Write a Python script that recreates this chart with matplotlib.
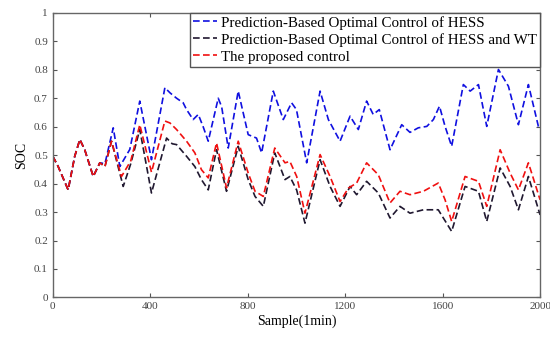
import matplotlib
matplotlib.use('Agg')
import matplotlib.pyplot as plt

plt.rcParams['font.family'] = ['Liberation Serif', 'DejaVu Serif']
plt.rcParams['xtick.direction'] = 'in'
plt.rcParams['ytick.direction'] = 'in'

# samples and SOC values
x_hess = [0, 22, 42, 63, 90, 111, 131, 166, 193, 214, 248, 275, 316, 357, 405, 460, 481,
          508, 535, 549, 576, 597, 617, 638, 679, 693, 720, 761, 802, 836, 857, 905, 946,
          980, 1000, 1042, 1097, 1131, 1179, 1220, 1254, 1288, 1315, 1340, 1384, 1432,
          1466, 1500, 1535, 1562, 1587, 1610, 1637, 1685, 1713, 1747, 1781, 1829, 1870,
          1911, 1952, 1993, 2000]
soc_hess = [0.496, 0.46, 0.42, 0.378, 0.496, 0.555, 0.519, 0.425, 0.473, 0.47, 0.596, 0.46,
            0.52, 0.69, 0.484, 0.737, 0.719, 0.70, 0.684, 0.66, 0.625, 0.643, 0.60, 0.549,
            0.70, 0.67, 0.525, 0.725, 0.572, 0.56, 0.508, 0.725, 0.625, 0.684, 0.66, 0.473,
            0.725, 0.625, 0.549, 0.637, 0.59, 0.69, 0.643, 0.66, 0.519, 0.607, 0.58, 0.596,
            0.601, 0.625, 0.672, 0.601, 0.531, 0.748, 0.725, 0.748, 0.601, 0.801, 0.742,
            0.607, 0.748, 0.601, 0.60]

x_wt = [0, 22, 42, 63, 90, 111, 131, 166, 193, 214, 241, 289, 320, 357, 405, 467, 490, 508,
        549, 583, 610, 638, 672, 713, 761, 802, 830, 864, 911, 953, 973, 1001, 1035, 1097,
        1138, 1179, 1220, 1247, 1288, 1336, 1384, 1425, 1466, 1521, 1582, 1637, 1692, 1747,
        1781, 1836, 1877, 1911, 1952, 2000]
soc_wt = [0.496, 0.46, 0.42, 0.378, 0.496, 0.555, 0.519, 0.425, 0.473, 0.46, 0.549, 0.39,
          0.47, 0.59, 0.367, 0.56, 0.54, 0.537, 0.496, 0.46, 0.414, 0.378, 0.519, 0.373,
          0.531, 0.414, 0.355, 0.32, 0.508, 0.414, 0.425, 0.377, 0.261, 0.484, 0.39, 0.32,
          0.39, 0.361, 0.408, 0.367, 0.279, 0.32, 0.296, 0.308, 0.308, 0.232, 0.39, 0.373,
          0.267, 0.455, 0.39, 0.308, 0.425, 0.29]

x_prop = [0, 22, 42, 63, 90, 111, 131, 166, 193, 214, 241, 282, 320, 357, 405, 460, 481,
          508, 549, 583, 610, 638, 672, 713, 761, 802, 830, 864, 911, 953, 973, 1001, 1035,
          1097, 1138, 1179, 1213, 1247, 1288, 1336, 1384, 1425, 1466, 1521, 1582, 1610,
          1637, 1692, 1747, 1781, 1836, 1877, 1911, 1952, 2000]
soc_prop = [0.496, 0.46, 0.42, 0.378, 0.496, 0.555, 0.519, 0.425, 0.473, 0.46, 0.549, 0.425,
            0.48, 0.607, 0.44, 0.62, 0.613, 0.59, 0.549, 0.508, 0.449, 0.42, 0.543, 0.385,
            0.549, 0.437, 0.373, 0.355, 0.525, 0.473, 0.478, 0.425, 0.296, 0.502, 0.425,
            0.337, 0.384, 0.402, 0.473, 0.431, 0.332, 0.373, 0.361, 0.373, 0.402, 0.343,
            0.267, 0.425, 0.408, 0.32, 0.519, 0.437, 0.378, 0.473, 0.343]

labels = ['Prediction-Based Optimal Control of HESS',
          'Prediction-Based Optimal Control of HESS and WT',
          'The proposed control']

fig = plt.figure(figsize=(5.5, 3.38), dpi=100)
ax = fig.add_axes([0.096, 0.12, 0.886, 0.842])

ax.plot(x_hess, soc_hess, '--', color='#1010e0', lw=1.2, dashes=(4, 2), label=labels[0])
ax.plot(x_wt, soc_wt, '--', color='#201830', lw=1.2, dashes=(4, 2), label=labels[1])
ax.plot(x_prop, soc_prop, '--', color='#f01010', lw=1.2, dashes=(4, 2), label=labels[2])

ax.set_xlim(0, 2000)
ax.set_ylim(0, 1)
ax.set_xticks([0, 400, 800, 1200, 1600, 2000])
ax.set_yticks([i / 10 for i in range(11)])
ax.set_yticklabels(['0', '0.1', '0.2', '0.3', '0.4', '0.5', '0.6', '0.7', '0.8', '0.9', '1'])
ax.tick_params(labelsize=8, top=True, right=True, length=3, colors='#555555',
               labelcolor='#444444')
for s in ax.spines.values():
    s.set_color('#666666')
    s.set_linewidth(1.0)

ax.set_xlabel('Sample(1min)', fontsize=10, labelpad=2)
ax.set_ylabel('SOC', fontsize=10, labelpad=4)

leg = ax.legend(loc='upper right', bbox_to_anchor=(1, 1), borderaxespad=0, fontsize=10.8,
                fancybox=False, framealpha=1, edgecolor='#555555', handlelength=1.6,
                handletextpad=0.25, labelspacing=0.22, borderpad=0.2)
leg.get_frame().set_linewidth(1.0)

plt.savefig('out.png', dpi=100)
